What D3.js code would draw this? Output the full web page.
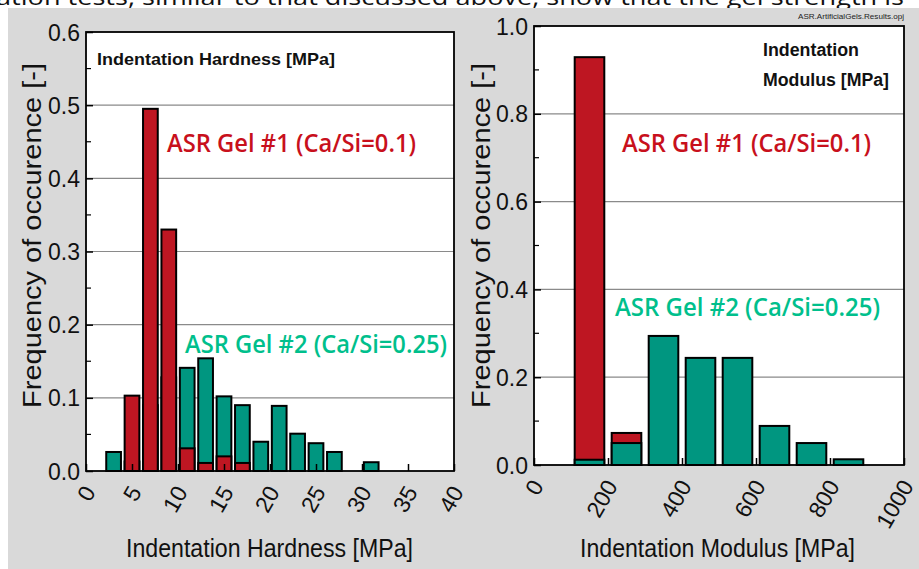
<!DOCTYPE html>
<html>
<head>
<meta charset="utf-8">
<script src="https://cdn.jsdelivr.net/npm/d3@7"></script>
<style>
  html, body { margin: 0; padding: 0; background: #ffffff; }
  svg { display: block; }
  .tick-label { font-family: "Liberation Sans", Arial, sans-serif; font-size: 23px; fill: #111; }
  .axis-title { font-family: "Liberation Sans", Arial, sans-serif; font-size: 25px; fill: #111; }
  .panel-title { font-family: "Liberation Sans", Arial, sans-serif; font-weight: bold; fill: #111; }
  .gel-label { font-family: "Open Sans", "Noto Sans", sans-serif; font-size: 26px; font-weight: 600; }
</style>
</head>
<body>
<script>
// Histogram of indentation hardness (bin centres, MPa) for the two gels
const hardnessBins = [3, 5, 7, 9, 11, 13, 15, 17, 19, 21, 23, 25, 27, 29, 31];
const gel1Hardness = [0, 0.103, 0.495, 0.330, 0.031, 0.011, 0.020, 0.011, 0, 0, 0, 0, 0, 0, 0];
const gel2Hardness = [0.026, 0.013, 0.090, 0.128, 0.141, 0.154, 0.102, 0.090, 0.040, 0.089, 0.051, 0.038, 0.026, 0, 0.012];

// Histogram of indentation modulus (bin centres, MPa)
const modulusBins = [150, 250, 350, 450, 550, 650, 750, 850];
const gel1Modulus = [0.929, 0.073, 0, 0, 0, 0, 0, 0];
const gel2Modulus = [0.012, 0.050, 0.294, 0.244, 0.244, 0.089, 0.050, 0.013];

// Axis ticks
const hardnessTicks = [0, 5, 10, 15, 20, 25, 30, 35, 40];
const modulusTicks = [0, 200, 400, 600, 800, 1000];
const hardnessFreqTicks = [0, 0.1, 0.2, 0.3, 0.4, 0.5, 0.6];
const modulusFreqTicks = [0, 0.2, 0.4, 0.6, 0.8, 1.0];

const gel1Name = "ASR Gel #1 (Ca/Si=0.1)";
const gel2Name = "ASR Gel #2 (Ca/Si=0.25)";

const RED = "#be1622";
const TEAL = "#009680";
const RED_TEXT = "#c8101c";
const TEAL_TEXT = "#00bf8c";

const W = 919, H = 569;
const svg = d3.select("body").append("svg").attr("width", W).attr("height", H);

// page text above the figure, mostly cut off
svg.append("text")
  .attr("x", -4).attr("y", 5)
  .attr("textLength", 908).attr("lengthAdjust", "spacingAndGlyphs")
  .style("font-family", "'Open Sans', 'Noto Sans', sans-serif")
  .style("font-size", "22px").style("fill", "#111")
  .text("ation tests, similar to that discussed above, show that the gel strength is");

svg.append("rect").attr("x", 8).attr("y", 8).attr("width", W - 8).attr("height", H - 8).attr("fill", "#d9d9d9");

svg.append("text")
  .attr("x", 904).attr("y", 19).attr("text-anchor", "end")
  .attr("textLength", 106).attr("lengthAdjust", "spacingAndGlyphs")
  .style("font-family", "'Liberation Sans', Arial, sans-serif")
  .style("font-size", "8px").style("fill", "#222")
  .text("ASR.ArtificialGels.Results.opj");

function panel(cfg) {
  const x = d3.scaleLinear().domain(cfg.xDomain).range([cfg.left, cfg.right]);
  const y = d3.scaleLinear().domain(cfg.yDomain).range([cfg.bottom, cfg.top]);
  const g = svg.append("g");

  g.append("rect")
    .attr("x", cfg.left).attr("y", cfg.top)
    .attr("width", cfg.right - cfg.left).attr("height", cfg.bottom - cfg.top)
    .attr("fill", "#ffffff");

  // grid lines at inner major ticks
  g.append("g").selectAll("line")
    .data(cfg.yTicks.filter(v => v > cfg.yDomain[0] && v < cfg.yDomain[1]))
    .join("line")
    .attr("x1", cfg.left).attr("x2", cfg.right)
    .attr("y1", d => y(d)).attr("y2", d => y(d))
    .attr("stroke", "#8a8a8a").attr("stroke-width", 1.2);

  const bars = (vals, color) => {
    g.append("g").selectAll("rect")
      .data(cfg.bins.map((b, i) => ({ b, v: vals[i] })).filter(d => d.v > 0))
      .join("rect")
      .attr("x", d => x(d.b - cfg.binHalf))
      .attr("width", d => x(d.b + cfg.binHalf) - x(d.b - cfg.binHalf))
      .attr("y", d => y(d.v))
      .attr("height", d => y(0) - y(d.v))
      .attr("fill", color)
      .attr("stroke", "#000").attr("stroke-width", 2);
  };
  cfg.order.forEach(s => bars(s.vals, s.color));

  // x axis with inward ticks
  const xAxis = g.append("g")
    .attr("transform", `translate(0,${cfg.bottom})`)
    .call(d3.axisBottom(x).tickValues(cfg.xTicks).tickSizeInner(-7).tickSizeOuter(0).tickFormat(d3.format("d")));
  xAxis.select(".domain").remove();
  xAxis.selectAll(".tick line").attr("stroke", "#000").attr("stroke-width", 1.5);
  xAxis.selectAll(".tick text")
    .attr("class", "tick-label")
    .attr("x", 0).attr("y", 0).attr("dy", "0.35em")
    .attr("transform", "translate(3,17) rotate(-60)")
    .style("text-anchor", "end");

  // y axis with inward major and minor ticks
  const yAxis = g.append("g")
    .attr("transform", `translate(${cfg.left},0)`)
    .call(d3.axisLeft(y).tickValues(cfg.yTicks).tickSizeInner(-7).tickSizeOuter(0).tickPadding(6).tickFormat(d3.format(".1f")));
  yAxis.select(".domain").remove();
  yAxis.selectAll(".tick line").attr("stroke", "#000").attr("stroke-width", 1.5);
  yAxis.selectAll(".tick text").attr("class", "tick-label").attr("dy", "0.35em");
  g.append("g").selectAll("line")
    .data(cfg.yMinor)
    .join("line")
    .attr("x1", cfg.left).attr("x2", cfg.left + 5)
    .attr("y1", d => y(d)).attr("y2", d => y(d))
    .attr("stroke", "#000").attr("stroke-width", 1.2);

  // frame
  g.append("rect")
    .attr("x", cfg.left).attr("y", cfg.top)
    .attr("width", cfg.right - cfg.left).attr("height", cfg.bottom - cfg.top)
    .attr("fill", "none").attr("stroke", "#000").attr("stroke-width", 1.8);

  // axis titles
  g.append("text").attr("class", "axis-title")
    .attr("x", cfg.xTitle[0]).attr("y", cfg.xTitle[1])
    .attr("textLength", cfg.xTitle[2]).attr("lengthAdjust", "spacingAndGlyphs")
    .text(cfg.xLabel);
  g.append("text").attr("class", "axis-title")
    .attr("transform", `translate(${cfg.yTitle[0]},${cfg.yTitle[1]}) rotate(-90)`)
    .attr("textLength", cfg.yTitle[2]).attr("lengthAdjust", "spacingAndGlyphs")
    .text("Frequency of occurence [-]");

  // panel title
  cfg.title.forEach(t => {
    g.append("text").attr("class", "panel-title")
      .attr("x", t[0]).attr("y", t[1])
      .style("font-size", t[2] + "px")
      .attr("textLength", t[3]).attr("lengthAdjust", "spacingAndGlyphs")
      .text(t[4]);
  });

  // series labels
  cfg.labels.forEach(t => {
    g.append("text").attr("class", "gel-label")
      .attr("x", t[0]).attr("y", t[1])
      .attr("textLength", t[2]).attr("lengthAdjust", "spacingAndGlyphs")
      .style("fill", t[3])
      .text(t[4]);
  });
}

panel({
  xDomain: [0, 40], yDomain: [0, 0.6],
  left: 86, right: 454, top: 32, bottom: 471,
  bins: hardnessBins, binHalf: 0.8,
  order: [
    { vals: gel2Hardness, color: TEAL },
    { vals: gel1Hardness, color: RED }
  ],
  xTicks: hardnessTicks,
  yTicks: hardnessFreqTicks,
  yMinor: [0.05, 0.15, 0.25, 0.35, 0.45, 0.55],
  xLabel: "Indentation Hardness [MPa]",
  xTitle: [126, 557, 287],
  yTitle: [41, 408, 345],
  title: [[97, 65, 17, 238, "Indentation Hardness [MPa]"]],
  labels: [
    [167, 152, 249, RED_TEXT, gel1Name],
    [185, 353, 262, TEAL_TEXT, gel2Name]
  ]
});

panel({
  xDomain: [0, 1000], yDomain: [0, 1.0],
  left: 534, right: 904, top: 26, bottom: 465,
  bins: modulusBins, binHalf: 40,
  order: [
    { vals: gel1Modulus, color: RED },
    { vals: gel2Modulus, color: TEAL }
  ],
  xTicks: modulusTicks,
  yTicks: modulusFreqTicks,
  yMinor: [0.1, 0.3, 0.5, 0.7, 0.9],
  xLabel: "Indentation Modulus [MPa]",
  xTitle: [580, 557, 275],
  yTitle: [490, 408, 345],
  title: [[763, 56, 18, 96, "Indentation"], [763, 86, 18, 126, "Modulus [MPa]"]],
  labels: [
    [622, 152, 249, RED_TEXT, gel1Name],
    [615, 316, 265, TEAL_TEXT, gel2Name]
  ]
});
</script>
</body>
</html>
